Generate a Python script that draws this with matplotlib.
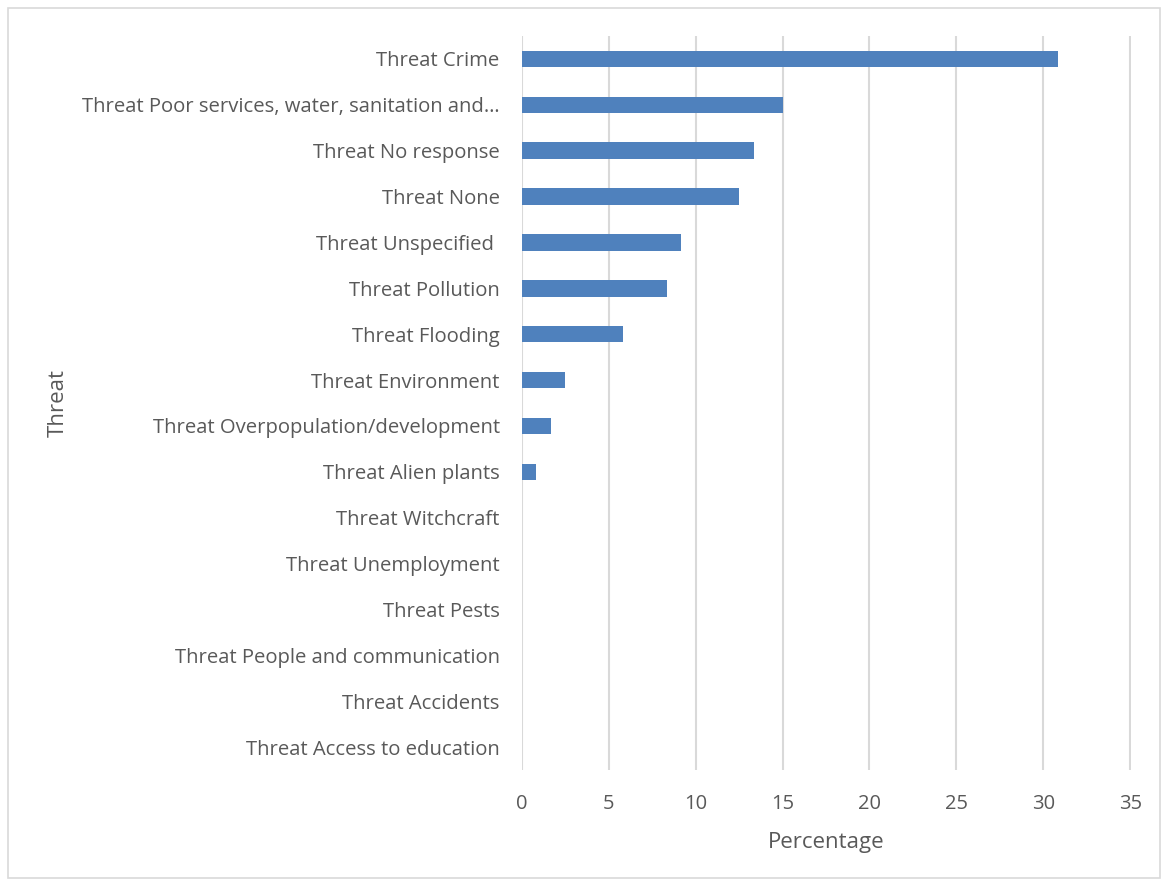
import matplotlib.pyplot as plt
from matplotlib.patches import Rectangle

categories = [
    "Threat Crime",
    "Threat Poor services, water, sanitation and\u2026",
    "Threat No response",
    "Threat None",
    "Threat Unspecified ",
    "Threat Pollution",
    "Threat Flooding",
    "Threat Environment",
    "Threat Overpopulation/development",
    "Threat Alien plants",
    "Threat Witchcraft",
    "Threat Unemployment",
    "Threat Pests",
    "Threat People and communication",
    "Threat Accidents",
    "Threat Access to education",
]
percentages = [30.83, 15.0, 13.33, 12.5, 9.17, 8.33, 5.83, 2.5, 1.67, 0.83,
               0, 0, 0, 0, 0, 0]
xticks = [0, 5, 10, 15, 20, 25, 30, 35]

plt.rcParams['font.family'] = ['Open Sans', 'DejaVu Sans']
textColor = '#595959'

fig = plt.figure(figsize=(11.69, 8.86), dpi=100)
ax = fig.add_axes([0.4465, 0.1309, 0.5210, 0.8285])

ypos = list(range(len(categories)))
ax.barh(ypos, percentages, height=0.36, color='#4F81BD', zorder=3)
ax.set_ylim(len(categories) - 0.5, -0.5)
ax.set_xlim(0, 35.05)
ax.set_yticks(ypos)
ax.set_yticklabels(categories, fontsize=14.6, color=textColor)
ax.set_xticks(xticks)
ax.set_xticklabels([str(t) for t in xticks], fontsize=14.5, color=textColor)
ax.tick_params(axis='both', length=0)
ax.tick_params(axis='y', pad=16)
ax.tick_params(axis='x', pad=17)
ax.grid(axis='x', color='#D9D9D9', linewidth=1.5, zorder=0)
ax.grid(axis='y', visible=False)
for s in ax.spines.values():
    s.set_visible(False)

ax.set_xlabel('Percentage', fontsize=16, color=textColor, labelpad=13)
fig.text(58 / 1169, 1 - 403 / 886, 'Threat', rotation=90, fontsize=16,
         color=textColor, ha='center', va='center')

# outer chart border
fig.patches.append(Rectangle((8 / 1169, 8 / 886), 1152 / 1169, 870 / 886,
                             transform=fig.transFigure, fill=False,
                             edgecolor='#D9D9D9', linewidth=1.2))

fig.savefig('out.png', dpi=100)
